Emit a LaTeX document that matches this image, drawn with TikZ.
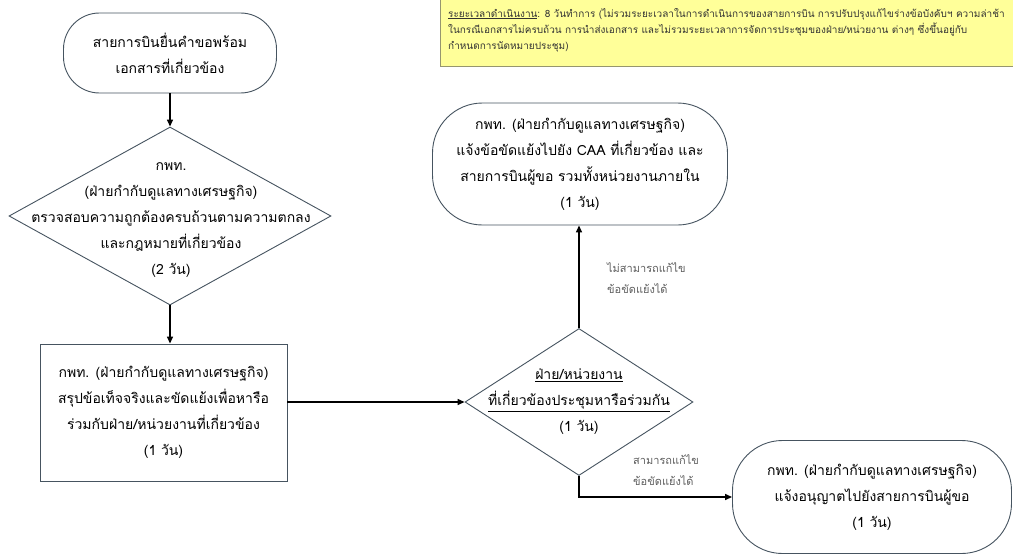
\documentclass[tikz,border=0pt]{standalone}
\usepackage{fontspec}
\newfontfamily\thaifont[Script=Thai]{Loma}
\usetikzlibrary{shapes.geometric,arrows.meta}
\definecolor{shapeline}{RGB}{70,84,96}
\definecolor{notefill}{RGB}{255,255,153}
\definecolor{noteline}{RGB}{150,150,110}
\definecolor{labelgray}{RGB}{95,95,95}
\tikzset{
	terminal/.style={draw=shapeline, line width=0.9pt, rounded corners=38pt, fill=white},
	procbox/.style={draw=shapeline, line width=0.9pt, fill=white},
	dia/.style={draw=shapeline, line width=0.9pt, shape=diamond, inner sep=0pt, fill=white},
	txt/.style={align=center, font=\thaifont\fontsize{14}{26}\selectfont},
	edgetxt/.style={anchor=west, align=left, text=labelgray, inner sep=0pt, font=\thaifont\fontsize{11}{21}\selectfont},
	flow/.style={line width=1.4pt, -{Triangle[length=7pt,width=6pt]}}
}
\begin{document}
\begin{tikzpicture}[x=1pt,y=1pt,yscale=-1,xscale=1]
	\useasboundingbox (0,0) rectangle (1013,554);
	% note box
	\draw [draw=noteline, fill=notefill, line width=0.8pt] (440,-3) rectangle (1016,66);
	\node [anchor=north west, align=left, inner sep=0pt, text=black!80, font=\thaifont\fontsize{10}{16}\selectfont] (note) at (448,8) {\underline{ระยะเวลาดำเนินงาน}: 8 วันทำการ (ไม่รวมระยะเวลาในการดำเนินการของสายการบิน การปรับปรุงแก้ไขร่างข้อบังคับฯ ความล่าช้า\\ในกรณีเอกสารไม่ครบถ้วน การนำส่งเอกสาร และไม่รวมระยะเวลาการจัดการประชุมของฝ่าย/หน่วยงาน ต่างๆ ซึ่งขึ้นอยู่กับ\\กำหนดการนัดหมายประชุม)};
	% shapes
	\node [terminal, minimum width=213pt, minimum height=80pt, rounded corners=36pt] (start) at (170,53) {};
	\node [txt] (starttxt) at (start) {สายการบินยื่นคำขอพร้อม\\เอกสารที่เกี่ยวข้อง};
	\node [dia, minimum width=322pt, minimum height=178pt] (chk) at (170,216) {};
	\node [txt] (chktxt) at (171,220) {กพท.\\(ฝ่ายกำกับดูแลทางเศรษฐกิจ)\\ตรวจสอบความถูกต้องครบถ้วนตามความตกลง\\และกฎหมายที่เกี่ยวข้อง\\(2 วัน)};
	\node [procbox, minimum width=247pt, minimum height=137pt] (sum) at (163.5,412.5) {};
	\node [txt] (sumtxt) at (sum) {กพท. (ฝ่ายกำกับดูแลทางเศรษฐกิจ)\\สรุปข้อเท็จจริงและขัดแย้งเพื่อหารือ\\ร่วมกับฝ่าย/หน่วยงานที่เกี่ยวข้อง\\(1 วัน)};
	\node [dia, minimum width=228pt, minimum height=147pt] (meet) at (579,402) {};
	\node [txt] (meettxt) at (579,402) {\underline{ฝ่าย/หน่วยงาน}\\\underline{ที่เกี่ยวข้องประชุมหารือร่วมกัน}\\(1 วัน)};
	\node [terminal, minimum width=295pt, minimum height=122pt, rounded corners=50pt] (fail) at (580,164) {};
	\node [txt] (failtxt) at (fail) {กพท. (ฝ่ายกำกับดูแลทางเศรษฐกิจ)\\แจ้งข้อขัดแย้งไปยัง CAA ที่เกี่ยวข้อง และ\\สายการบินผู้ขอ รวมทั้งหน่วยงานภายใน\\(1 วัน)};
	\node [terminal, minimum width=279pt, minimum height=113pt, rounded corners=50pt] (ok) at (872,497) {};
	\node [txt] (oktxt) at (ok) {กพท. (ฝ่ายกำกับดูแลทางเศรษฐกิจ)\\แจ้งอนุญาตไปยังสายการบินผู้ขอ\\(1 วัน)};
	% connectors
	\draw [flow] (start.south) -- (chk.north);
	\draw [flow] (chk.south) -- (chk.south |- sum.north);
	\draw [flow] (sum.east |- meet.west) -- (meet.west);
	\draw [flow] (meet.north) -- (meet.north |- fail.south);
	\draw [flow] (meet.south) |- (ok.west);
	% branch labels
	\node [edgetxt] (nofix) at (607,278) {ไม่สามารถแก้ไข\\ข้อขัดแย้งได้};
	\node [edgetxt] (fix) at (633,470) {สามารถแก้ไข\\ข้อขัดแย้งได้};
\end{tikzpicture}
\end{document}
